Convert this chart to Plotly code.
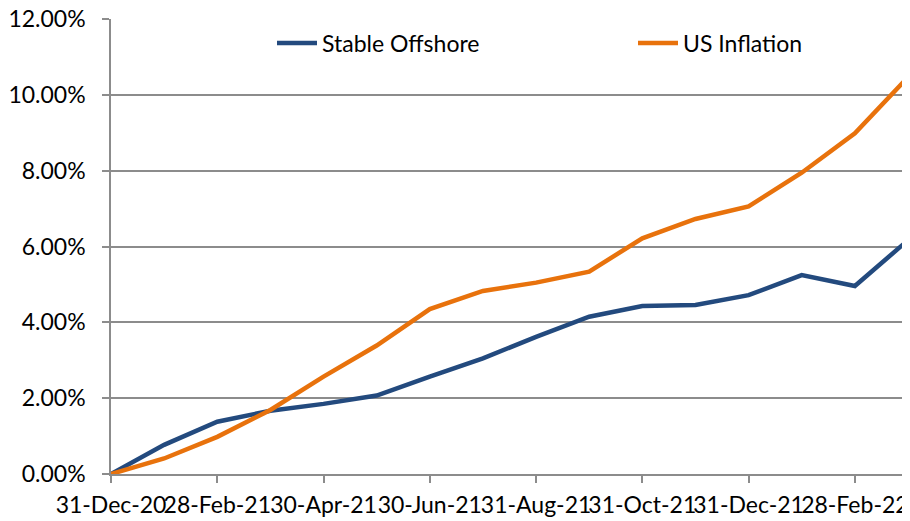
import plotly.graph_objects as go

months = ["31-Dec-20", "31-Jan-21", "28-Feb-21", "31-Mar-21", "30-Apr-21", "31-May-21",
          "30-Jun-21", "31-Jul-21", "31-Aug-21", "30-Sep-21", "31-Oct-21", "30-Nov-21",
          "31-Dec-21", "31-Jan-22", "28-Feb-22", "31-Mar-22"]
stable_offshore = [0.0, 0.77, 1.38, 1.67, 1.85, 2.07, 2.57, 3.05, 3.62, 4.15, 4.43, 4.46,
                   4.72, 5.25, 4.96, 6.17]
us_inflation = [0.0, 0.41, 0.98, 1.69, 2.57, 3.39, 4.35, 4.83, 5.05, 5.34, 6.22, 6.73,
                7.06, 7.95, 8.99, 10.47]
tick_labels = months[::2]
y_ticks = [0, 2, 4, 6, 8, 10, 12]

FONT = "Lato"
FS = 23
GRID = "#8c8c8c"

# page body has an 8px margin, so the figure is drawn slightly smaller
W, H = 902, 513
ML, MR, MT, MB = 103, 2, 11, 47
PW = W - ML - MR
PH = H - MT - MB

fig = go.Figure()
fig.add_trace(go.Scatter(x=months, y=[v / 100 for v in stable_offshore], mode="lines",
                         name="Stable Offshore", legend="legend",
                         line=dict(color="#234a7e", width=4.5)))
fig.add_trace(go.Scatter(x=months, y=[v / 100 for v in us_inflation], mode="lines",
                         name="US Inflation", legend="legend2",
                         line=dict(color="#e8720c", width=4.5)))

leg_common = dict(orientation="h", yanchor="middle", xanchor="left",
                  bgcolor="rgba(0,0,0,0)", font=dict(family=FONT, size=FS), itemwidth=40)
leg_y = 1 - (35 - MT) / PH

fig.update_layout(
    width=W, height=H,
    margin=dict(l=ML, r=MR, t=MT, b=MB),
    paper_bgcolor="white", plot_bgcolor="white",
    font=dict(family=FONT, size=FS, color="#000000"),
    showlegend=True,
    legend=dict(x=(264 - ML) / PW, y=leg_y, **leg_common),
    legend2=dict(x=(625 - ML) / PW, y=leg_y, **leg_common),
    xaxis=dict(type="category", categoryorder="array", categoryarray=months,
               range=[0, 15], tickmode="array", tickvals=tick_labels, ticktext=tick_labels,
               tickangle=0, showgrid=False, showline=True, linecolor=GRID, linewidth=1.5,
               ticks="outside", ticklen=7, tickcolor=GRID, tickwidth=1.5, automargin=False,
               ticklabeloverflow="allow", ticklabelstandoff=3,
               tickfont=dict(family=FONT, size=FS), zeroline=False),
    yaxis=dict(range=[0, 0.12006], tickmode="array", tickvals=[v / 100 for v in y_ticks],
               tickformat=".2%", showgrid=True, gridcolor=GRID, gridwidth=1.5,
               showline=True, linecolor=GRID, linewidth=1.5, ticks="outside", ticklen=7,
               tickcolor=GRID, tickwidth=1.5, zeroline=False, automargin=False,
               ticklabelstandoff=12, ticklabeloverflow="allow",
               tickfont=dict(family=FONT, size=FS)),
)

fig.write_html("out.html")
